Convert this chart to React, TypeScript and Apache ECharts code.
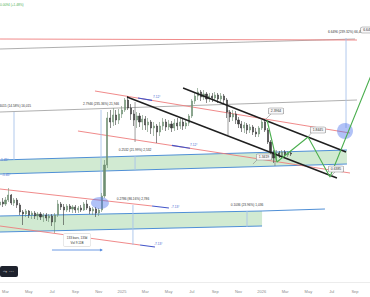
import React, { useEffect, useRef } from "react";
import * as echarts from "echarts";

// ---------- data ----------
const MONTH_NAMES = ["Jan", "Feb", "Mar", "Apr", "May", "Jun", "Jul", "Aug", "Sep", "Oct", "Nov", "Dec"];
const BASE_YEAR = 2024;
// month index (0 = Jan 2024) of first weekly candle, and spacing between candles (months)
const FIRST_CANDLE_MONTH = 1.5;
const CANDLE_STEP = 0.25;

// [open, close, low, high]
const candles: number[][] = [
  [3.85, 4.0, 3.7, 4.15], [4.0, 3.9, 3.75, 4.2], [3.9, 4.1, 3.8, 4.25], [4.1, 4.35, 4.0, 4.7],
  [4.35, 3.95, 3.85, 4.4], [3.95, 4.1, 3.8, 4.2], [4.1, 3.85, 3.7, 4.2], [3.85, 3.5, 3.35, 3.95],
  [3.5, 3.4, 2.85, 3.6], [3.4, 3.55, 3.25, 3.65], [3.55, 3.35, 3.2, 3.6], [3.35, 3.45, 3.15, 3.55],
  [3.45, 3.3, 3.15, 3.55], [3.3, 3.4, 3.1, 3.5], [3.4, 3.25, 3.1, 3.5], [3.25, 3.35, 3.0, 3.45],
  [3.35, 3.2, 3.05, 3.45], [3.2, 3.3, 3.0, 3.4], [3.3, 3.0, 2.8, 3.4], [3.0, 3.35, 2.45, 3.45],
  [3.35, 3.9, 3.25, 4.1], [3.9, 3.75, 3.6, 4.0], [3.75, 3.6, 2.85, 3.9], [3.6, 3.8, 3.5, 3.9],
  [3.8, 3.65, 3.5, 3.9], [3.65, 3.75, 3.45, 3.85], [3.75, 3.6, 3.45, 3.85], [3.6, 3.7, 3.45, 3.8],
  [3.7, 3.6, 3.5, 3.85], [3.6, 3.9, 3.55, 4.0], [3.9, 3.7, 3.6, 4.1], [3.7, 3.55, 3.4, 3.8],
  [3.55, 3.65, 3.35, 3.75], [3.65, 3.45, 3.25, 3.75], [3.45, 3.6, 3.3, 3.7], [3.6, 4.3, 3.5, 4.45],
  [4.3, 5.85, 4.2, 6.1], [5.85, 8.2, 5.7, 8.5], [8.2, 8.0, 7.7, 8.6], [8.0, 8.35, 7.8, 8.7],
  [8.35, 8.1, 7.85, 8.6], [8.1, 8.4, 7.9, 8.65], [8.4, 8.6, 8.2, 8.8], [8.6, 9.1, 8.5, 9.2],
  [9.1, 8.7, 8.6, 9.3], [8.7, 8.4, 8.1, 8.9], [8.4, 8.1, 7.8, 8.6], [8.1, 8.3, 7.7, 8.5],
  [8.3, 8.0, 7.75, 8.45], [8.0, 8.15, 7.6, 8.35], [8.15, 7.85, 7.6, 8.3], [7.85, 8.0, 7.5, 8.2],
  [8.0, 7.7, 7.4, 8.1], [7.7, 7.8, 7.3, 8.0], [7.8, 7.5, 6.95, 7.9], [7.5, 7.8, 7.3, 8.0],
  [7.8, 8.0, 7.6, 8.2], [8.0, 7.75, 7.55, 8.15], [7.75, 7.9, 7.6, 8.1], [7.9, 7.7, 7.5, 8.05],
  [7.7, 7.95, 7.55, 8.15], [7.95, 7.8, 7.6, 8.2], [7.8, 8.0, 7.65, 8.2], [8.0, 7.8, 7.6, 8.15],
  [7.8, 7.95, 7.65, 8.1], [7.95, 8.3, 7.8, 8.4], [8.3, 9.05, 8.2, 9.15], [9.05, 9.3, 8.9, 9.5],
  [9.3, 9.5, 9.1, 9.7], [9.5, 9.25, 9.05, 9.6], [9.25, 9.4, 9.1, 9.6], [9.4, 9.15, 8.95, 9.5],
  [9.15, 9.3, 9.0, 9.45], [9.3, 9.2, 9.0, 9.45], [9.2, 9.35, 9.05, 9.5], [9.35, 9.15, 8.95, 9.45],
  [9.15, 9.3, 9.0, 9.45], [9.3, 9.1, 8.9, 9.4], [9.1, 8.5, 8.2, 9.2], [8.5, 8.25, 8.0, 8.6],
  [8.25, 8.4, 8.05, 8.6], [8.4, 8.1, 7.9, 8.55], [8.1, 7.9, 7.7, 8.25], [7.9, 7.7, 7.5, 8.05],
  [7.7, 7.85, 7.45, 8.0], [7.85, 7.6, 7.4, 7.95], [7.6, 7.75, 7.45, 7.9], [7.75, 7.5, 7.35, 7.85],
  [7.5, 7.4, 7.25, 7.7], [7.4, 7.7, 7.25, 7.8], [7.7, 8.0, 7.6, 8.1], [8.0, 7.6, 7.5, 8.15],
  [7.6, 7.0, 6.9, 7.7], [7.0, 6.5, 6.35, 7.1], [6.5, 6.2, 5.95, 6.6], [6.2, 6.45, 6.1, 6.6],
  [6.45, 6.3, 6.2, 6.55], [6.3, 6.5, 6.2, 6.6], [6.5, 6.35, 6.25, 6.6], [6.35, 6.45, 6.25, 6.55],
  [6.45, 6.4, 6.3, 6.55],
];

// trend lines: [month1, value1, month2, value2]
const redLines = [
  [1.53, 12.15, 32.17, 12.1],
  [9.68, 9.55, 31.57, 7.45],
  [8.22, 7.55, 31.57, 5.45],
  [1.53, 4.65, 14.58, 3.8],
  [1.53, 2.8, 13.55, 1.85],
];
const greyLines = [
  [1.53, 11.65, 32.0, 12.15],
  [1.53, 8.5, 32.17, 9.1],
];
const blackLines = [
  [12.43, 9.25, 30.45, 5.2],
  [17.24, 9.7, 31.23, 6.5],
];
const angleSegments = [
  [13.37, 9.2, 14.58, 9.08],
  [16.29, 6.83, 17.84, 6.69],
  [14.58, 3.8, 16.03, 3.7],
  [13.55, 1.85, 14.83, 1.75],
];
const angleLabelPos = [
  [14.66, 9.25], [17.84, 6.85], [16.21, 3.75], [14.75, 1.9], [1.53, 6.1], [1.7, 5.35],
];
const angleLabelTexts = ["7.12°", "7.12°", "-7.13°", "-7.13°", "-1.45°", "-1.45°"];

// channels: [month1, top1, bottom1, month2, top2, bottom2]
const bands = [
  [1.53, 6.1, 5.4, 31.31, 6.6, 5.9],
  [1.53, 3.3, 2.5, 24.02, 3.55, 2.8],
];
const bandExtensions = [[24.02, 3.55, 29.42, 3.65]];

// projected path
const projectionPath = [
  [24.45, 8.1], [25.3, 6.0], [27.97, 7.25], [29.85, 5.25], [33.46, 10.45],
];

// price-range measures: [month, top, bottom]
const measures = [
  [2.73, 8.5, 6.1],
  [10.2, 8.6, 4.1],
  [13.12, 6.3, 5.6],
  [12.94, 3.85, 1.85],
  [22.73, 3.55, 2.75],
  [31.23, 12.2, 7.7],
];
const measureTexts = [
  "1.6015 (14.58%) 16,015",
  "2.7946 (235.36%) 21,946",
  "0.2532 (21.99%) 2,532",
  "0.2786 (86.16%) 2,786",
  "0.1036 (23.96%) 1,036",
  "6.6496 (239.32%) 66,496",
];

// plain vertical range lines: [month, top, bottom]
const rangeLines = [
  [13.12, 9.0, 7.0],
  [21.1, 8.6, 7.35],
  [25.13, 6.6, 5.8],
];

// price callouts
const priceBoxes = [[25.22, 8.55], [28.82, 7.6], [24.19, 6.25], [30.37, 5.65], [33.15, 12.6]];
const priceBoxTexts = ["2.3964", "1.8445", "1.3419", "0.6385", "6.6496"];
const leaders = [
  [24.79, 8.4, 24.27, 8.1],
  [28.31, 7.5, 27.97, 7.25],
  [23.67, 6.15, 23.24, 5.9],
  [30.28, 5.5, 29.85, 5.25],
];

const focusCircles = [[10.11, 3.95], [31.14, 7.55]];

// date range: [monthFrom, monthTo, value]; box anchor [month, value]
const dateRange = [[5.99, 10.28, 1.6]];
const dateRangeBox = [[8.14, 2.1]];
const dateRangeTexts = ["133 bars, 133d\nVol 9.11B"];

const headerText = "0.0094 (+1.48%)";

// ---------- styles ----------
const FONT = "Liberation Sans, Arial, sans-serif";
const ELLIPSE_RADII = [[9, 6], [8, 8]];

function segmentSeries(data: number[][], color: string, width: number, z: number) {
  return {
    type: "custom",
    data,
    clip: true,
    z,
    silent: true,
    renderItem: (_p: any, api: any) => {
      const a = api.coord([api.value(0), api.value(1)]);
      const b = api.coord([api.value(2), api.value(3)]);
      return {
        type: "line",
        shape: { x1: a[0], y1: a[1], x2: b[0], y2: b[1] },
        style: { stroke: color, lineWidth: width },
      };
    },
  };
}

export default function App() {
  const ref = useRef<HTMLDivElement>(null);

  useEffect(() => {
    document.body.style.margin = "0";
    if (!ref.current) return;
    const chart = echarts.init(ref.current, undefined, { renderer: "svg" });

    const candleData = candles.map((c, i) => [FIRST_CANDLE_MONTH + i * CANDLE_STEP, c[0], c[1], c[2], c[3]]);

    const option: any = {
      animation: false,
      backgroundColor: "#ffffff",
      grid: { left: -17.8, right: -8.3, top: 0, bottom: 15, containLabel: false, outerBoundsMode: "none" },
      xAxis: {
        type: "value",
        min: 0,
        max: 34,
        interval: 2,
        axisLine: { show: true, lineStyle: { color: "#ececec", width: 1 } },
        axisTick: { show: false },
        splitLine: { show: false },
        axisLabel: {
          fontSize: 4,
          color: "#8a8a8a",
          fontFamily: FONT,
          margin: 7,
          hideOverlap: false,
          showMinLabel: false,
          showMaxLabel: false,
          formatter: (v: number) => {
            const m = Math.round(v);
            if (m < 2 || m > 32) return "";
            if (m % 12 === 0) return String(BASE_YEAR + m / 12);
            return MONTH_NAMES[m % 12];
          },
        },
      },
      yAxis: { type: "value", min: 0, max: 14.1, show: false },
      graphic: [
        { type: "text", x: 0, y: 3, style: { text: headerText, fill: "#4caf50", fontSize: 3.2, fontFamily: FONT } },
        { type: "rect", x: 0, y: 266, shape: { width: 18, height: 11, r: 2 }, style: { fill: "#1e222d" } },
        { type: "text", x: 2.5, y: 268.5, style: { text: "⤳  ⋯", fill: "#ffffff", fontSize: 5, fontFamily: FONT } },
      ],
      series: [
        // channels
        {
          type: "custom",
          data: bands,
          clip: true,
          z: 1,
          silent: true,
          renderItem: (_p: any, api: any) => {
            const t1 = api.coord([api.value(0), api.value(1)]);
            const b1 = api.coord([api.value(0), api.value(2)]);
            const t2 = api.coord([api.value(3), api.value(4)]);
            const b2 = api.coord([api.value(3), api.value(5)]);
            return {
              type: "group",
              children: [
                { type: "polygon", shape: { points: [t1, t2, b2, b1] }, style: { fill: "rgba(76,175,80,0.26)" } },
                { type: "line", shape: { x1: t1[0], y1: t1[1], x2: t2[0], y2: t2[1] }, style: { stroke: "#4f8fd6", lineWidth: 1 } },
                { type: "line", shape: { x1: b1[0], y1: b1[1], x2: b2[0], y2: b2[1] }, style: { stroke: "#4f8fd6", lineWidth: 1 } },
              ],
            };
          },
        },
        segmentSeries(bandExtensions, "#4f8fd6", 1, 2),
        segmentSeries(greyLines, "#9a9a9a", 0.8, 2),
        segmentSeries(redLines, "#ee7d7d", 0.9, 2),
        segmentSeries(angleSegments, "#4456c9", 1.1, 3),
        // measures
        {
          type: "custom",
          data: measures,
          clip: false,
          z: 3,
          silent: true,
          renderItem: (p: any, api: any) => {
            const t = api.coord([api.value(0), api.value(1)]);
            const b = api.coord([api.value(0), api.value(2)]);
            return {
              type: "group",
              children: [
                { type: "line", shape: { x1: t[0], y1: t[1], x2: b[0], y2: b[1] }, style: { stroke: "#a8c3ea", lineWidth: 0.9 } },
                {
                  type: "text",
                  x: t[0],
                  y: t[1] - 6,
                  style: {
                    text: measureTexts[p.dataIndex],
                    fill: "#333",
                    fontSize: 3.2,
                    fontFamily: FONT,
                    align: "center",
                    verticalAlign: "middle",
                  },
                },
              ],
            };
          },
        },
        // range lines
        {
          type: "custom",
          data: rangeLines,
          clip: true,
          z: 3,
          silent: true,
          renderItem: (_p: any, api: any) => {
            const t = api.coord([api.value(0), api.value(1)]);
            const b = api.coord([api.value(0), api.value(2)]);
            return { type: "line", shape: { x1: t[0], y1: t[1], x2: b[0], y2: b[1] }, style: { stroke: "#777", lineWidth: 0.7 } };
          },
        },
        {
          type: "candlestick",
          data: candleData,
          encode: { x: 0, y: [1, 2, 3, 4] },
          barWidth: 1.6,
          z: 4,
          silent: true,
          itemStyle: { color: "#6e8f72", color0: "#3a3a3a", borderColor: "#6e8f72", borderColor0: "#3a3a3a", borderWidth: 0.6 },
        },
        segmentSeries(blackLines, "#1f1f1f", 1.4, 5),
        {
          type: "line",
          data: projectionPath,
          symbol: "none",
          z: 6,
          silent: true,
          clip: true,
          lineStyle: { color: "#4caf50", width: 1.1 },
        },
        segmentSeries(leaders, "#888", 0.6, 6),
        // focus circles
        {
          type: "custom",
          data: focusCircles,
          clip: true,
          z: 6,
          silent: true,
          renderItem: (p: any, api: any) => {
            const c = api.coord([api.value(0), api.value(1)]);
            const r = ELLIPSE_RADII[p.dataIndex];
            return {
              type: "circle",
              x: c[0],
              y: c[1],
              scaleX: r[0],
              scaleY: r[1],
              shape: { cx: 0, cy: 0, r: 1 },
              style: { fill: "rgba(70,110,235,0.42)" },
            };
          },
        },
        // angle labels
        {
          type: "custom",
          data: angleLabelPos,
          clip: false,
          z: 7,
          silent: true,
          renderItem: (p: any, api: any) => {
            const c = api.coord([api.value(0), api.value(1)]);
            return {
              type: "text",
              x: c[0],
              y: c[1],
              style: {
                text: angleLabelTexts[p.dataIndex],
                fill: "#3f5fd0",
                fontSize: 3.2,
                fontFamily: FONT,
                align: "left",
                verticalAlign: "middle",
              },
            };
          },
        },
        // price callouts
        {
          type: "custom",
          data: priceBoxes,
          clip: false,
          z: 8,
          silent: true,
          renderItem: (p: any, api: any) => {
            const c = api.coord([api.value(0), api.value(1)]);
            return {
              type: "text",
              x: c[0],
              y: c[1],
              style: {
                text: priceBoxTexts[p.dataIndex],
                fill: "#333",
                fontSize: 3.4,
                fontFamily: FONT,
                align: "center",
                verticalAlign: "middle",
                backgroundColor: "#f7f7f9",
                borderColor: "#8a8a8a",
                borderWidth: 0.6,
                borderRadius: 1,
                padding: [1.2, 2.2],
              },
            };
          },
        },
        // date range
        {
          type: "custom",
          data: dateRange,
          clip: false,
          z: 7,
          silent: true,
          renderItem: (_p: any, api: any) => {
            const a = api.coord([api.value(0), api.value(2)]);
            const b = api.coord([api.value(1), api.value(2)]);
            return {
              type: "group",
              children: [
                { type: "line", shape: { x1: a[0], y1: a[1], x2: b[0], y2: b[1] }, style: { stroke: "#5b8fe0", lineWidth: 0.9 } },
                { type: "polygon", shape: { points: [[b[0] + 1, b[1]], [b[0] - 2, b[1] - 1.5], [b[0] - 2, b[1] + 1.5]] }, style: { fill: "#5b8fe0" } },
              ],
            };
          },
        },
        {
          type: "custom",
          data: dateRangeBox,
          clip: false,
          z: 8,
          silent: true,
          renderItem: (p: any, api: any) => {
            const c = api.coord([api.value(0), api.value(1)]);
            return {
              type: "text",
              x: c[0],
              y: c[1],
              style: {
                text: dateRangeTexts[p.dataIndex],
                fill: "#333",
                fontSize: 3.1,
                lineHeight: 4.6,
                fontFamily: FONT,
                align: "center",
                verticalAlign: "middle",
                backgroundColor: "#ffffff",
                borderColor: "#dcdcdc",
                borderWidth: 0.6,
                borderRadius: 1,
                padding: [1.5, 3],
              },
            };
          },
        },
      ],
    };

    chart.setOption(option);
    return () => chart.dispose();
  }, []);

  return <div ref={ref} style={{ width: 370, height: 297 }} />;
}
